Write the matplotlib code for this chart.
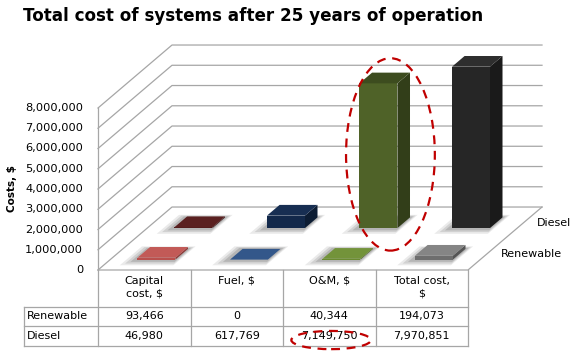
import matplotlib
matplotlib.use("Agg")
import matplotlib.pyplot as plt
import numpy as np
from matplotlib.patches import Polygon, Ellipse

# data
categories = ["Capital\ncost, $", "Fuel, $", "O&M, $", "Total cost,\n$"]
series = ["Renewable", "Diesel"]
renewable = [93466, 0, 40344, 194073]
diesel = [46980, 617769, 7149750, 7970851]
values = [renewable, diesel]
yticks = [0, 1000000, 2000000, 3000000, 4000000, 5000000, 6000000, 7000000, 8000000]

# colours (front, side, top) per series / category
face_cols = [
    ["#b9504d", "#2f5283", "#6a8a30", "#6e6e6e"],
    ["#521c1c", "#12284a", "#4f6228", "#262626"],
]
side_cols = [
    ["#8c3a38", "#223c60", "#4c6322", "#555555"],
    ["#3a1313", "#0c1c33", "#323e19", "#1a1a1a"],
]
top_cols = [
    ["#c25a57", "#33578a", "#73933a", "#858585"],
    ["#5a2020", "#172e52", "#3d4c1f", "#2e2e2e"],
]

# oblique geometry (x in category units, y in millions)
DX, DY = 0.8, 3.11          # depth vector of the whole floor
row_c = [0.25, 0.75]        # depth centres of the rows
hd = 0.085                  # half depth of a bar
bw = 0.41                   # bar width
grid_c = "#a6a6a6"

def P(x, d, v):
    return (x + d * DX, v + d * DY)

fig = plt.figure(figsize=(5.79, 3.56), dpi=100)
ax = fig.add_axes([0, 0, 1, 1])
ax.set_xlim(-98 / 92.5, (579 - 98) / 92.5)
ax.set_ylim((270 - 356) / 20.25, 270 / 20.25)
ax.axis("off")

ncat = len(categories)
ymax = yticks[-1] / 1e6

# walls and gridlines
for t in yticks:
    v = t / 1e6
    xs, ys = zip(P(0, 0, v), P(0, 1, v), P(ncat, 1, v))
    ax.plot(xs, ys, color=grid_c, lw=0.9, zorder=1)
    ax.text(-0.16, v, f"{t:,}", ha="right", va="center", fontsize=8.2)
ax.plot([0, 0], [0, ymax], color=grid_c, lw=0.9, zorder=1)
xs, ys = zip(P(0, 0, 0), P(ncat, 0, 0), P(ncat, 1, 0))
ax.plot(xs, ys, color=grid_c, lw=0.9, zorder=1)

ax.text(-0.925, (270 - 189) / 20.25, "Costs, $", rotation=90, ha="center", va="center",
        fontsize=7.5, fontweight="bold")

# bars, back row first
for r in [1, 0]:
    d0, d1 = row_c[r] - hd, row_c[r] + hd
    for c in range(ncat):
        v = values[r][c] / 1e6
        x0, x1 = c + 0.5 - bw / 2, c + 0.5 + bw / 2
        # soft shadow on the floor
        for k, a in [(0.1, 0.14), (0.07, 0.2), (0.04, 0.28)]:
            shadow = [P(x0 - k * 1.2, d0 - k * 0.9, 0), P(x1 + k * 0.5, d0 - k * 0.9, 0),
                      P(x1 + k * 0.5, d1 + k * 0.4, 0), P(x0 - k * 1.2, d1 + k * 0.4, 0)]
            ax.add_patch(Polygon(shadow, closed=True, fc="#6f6f6f", ec="none", alpha=a, zorder=2))
        front = [P(x0, d0, 0), P(x1, d0, 0), P(x1, d0, v), P(x0, d0, v)]
        side = [P(x1, d0, 0), P(x1, d1, 0), P(x1, d1, v), P(x1, d0, v)]
        top = [P(x0, d0, v), P(x1, d0, v), P(x1, d1, v), P(x0, d1, v)]
        z = 5 - r
        ax.add_patch(Polygon(side, closed=True, fc=side_cols[r][c], ec="none", zorder=z))
        ax.add_patch(Polygon(front, closed=True, fc=face_cols[r][c], ec="none", zorder=z))
        ax.add_patch(Polygon(top, closed=True, fc=top_cols[r][c], ec="none", zorder=z))

# series names on the right
for r, name in enumerate(series):
    x, y = P(ncat, row_c[r], 0)
    ax.text(x + 0.15, y, name, ha="left", va="center", fontsize=8)

# data table
h_hdr, h_row = 1.81, 0.97
hdr_x = -0.8
rows_top = -h_hdr
bottom = rows_top - 2 * h_row
for c in range(ncat + 1):
    ax.plot([c, c], [0, bottom], color=grid_c, lw=0.9, zorder=1)
ax.plot([hdr_x, hdr_x], [rows_top, bottom], color=grid_c, lw=0.9)
for k in range(3):
    yy = rows_top - k * h_row
    ax.plot([hdr_x, ncat], [yy, yy], color=grid_c, lw=0.9)
for c, lab in enumerate(categories):
    ax.text(c + 0.5, -0.28, lab, ha="center", va="top", fontsize=8, linespacing=1.35)
for r, name in enumerate(series):
    yc = rows_top - (r + 0.5) * h_row
    ax.text(hdr_x + 0.03, yc, name, ha="left", va="center", fontsize=8)
    for c in range(ncat):
        ax.text(c + 0.5, yc, f"{values[r][c]:,}", ha="center", va="center", fontsize=8)

# red dashed highlights
bx, by = P(2.5 + bw / 2 * 0.3, row_c[1], diesel[2] / 1e6 / 2)
ax.add_patch(Ellipse((bx, by - 0.2), 0.96, 9.5, fill=False, ec="#c00000", lw=1.6,
                     ls=(0, (4, 3)), zorder=8))
ax.add_patch(Ellipse((2.52, rows_top - 1.7 * h_row), 0.86, 0.9, fill=False, ec="#c00000",
                     lw=1.6, ls=(0, (4, 3)), zorder=8))

fig.text(23 / 579, 1 - 16 / 356, "Total cost of systems after 25 years of operation",
         ha="left", va="center", fontsize=12.1, fontweight="bold")

fig.savefig("out.png", dpi=100)
